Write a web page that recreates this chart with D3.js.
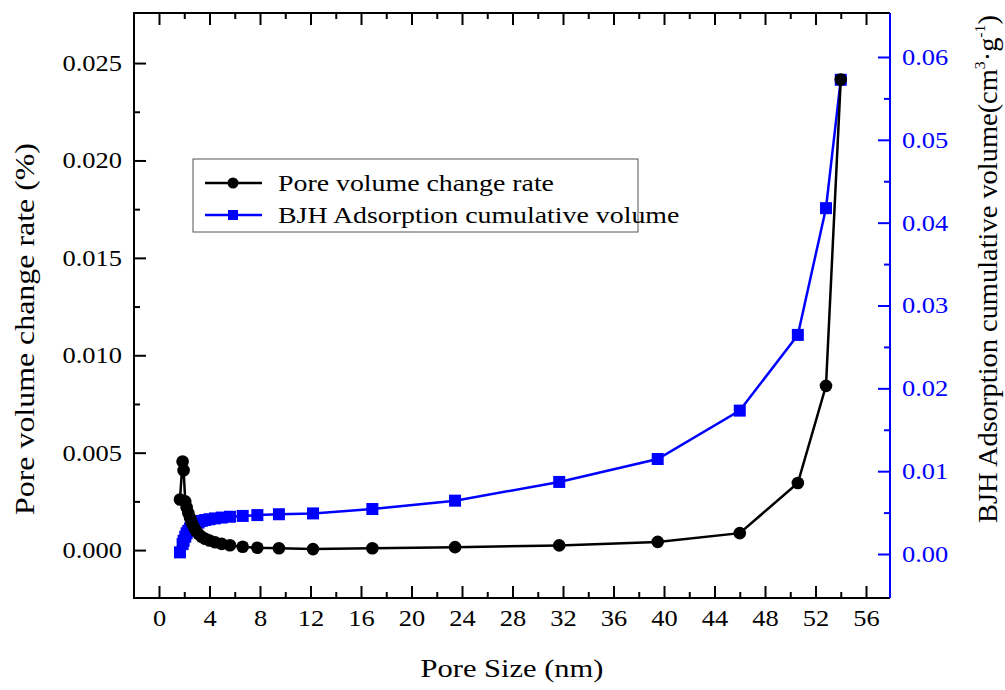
<!DOCTYPE html>
<html>
<head>
<meta charset="utf-8">
<script src="https://cdn.jsdelivr.net/npm/d3@7"></script>
<style>
    body { margin: 0; background: #fff; }
    svg text { font-family: "Liberation Serif", "Times New Roman", serif; }
</style>
</head>
<body>
<div id="chart"></div>
<script>
// pore size (nm), shared by both series
const poreSize = [1.66, 1.87, 1.95, 2.08, 2.19, 2.32, 2.46, 2.6, 2.76, 2.94, 3.14, 3.38, 3.66, 4.0, 4.44,
    4.97, 5.62, 6.63, 7.79, 9.5, 12.2, 16.9, 23.45, 31.7, 39.5, 46.0, 50.6, 52.83, 54.0];

// pore volume change rate (%), left axis
const changeRate = [0.0026, 0.00455, 0.0041, 0.0025, 0.0022, 0.0019, 0.00165, 0.0014, 0.00118, 0.00098, 0.00082,
    0.00068, 0.00058, 0.00049, 0.0004, 0.00032, 0.00025, 0.00017, 0.00012, 0.00009, 0.00005, 0.00009,
    0.00015, 0.00024, 0.00042, 0.00087, 0.00344, 0.00843, 0.02416];

// BJH adsorption cumulative volume (cm3/g), right axis
const cumVolume = [0.0002, 0.0012, 0.0016, 0.0021, 0.0025, 0.0028, 0.0031, 0.0033, 0.0035, 0.0037, 0.0038,
    0.004, 0.0041, 0.0042, 0.0043, 0.0044, 0.0045, 0.0046, 0.0047, 0.0048, 0.0049, 0.00543,
    0.00644, 0.0087, 0.01147, 0.01731, 0.02645, 0.04175, 0.05725];

const xTicks = d3.range(0, 57, 4);
const leftTicks = [0, 0.005, 0.01, 0.015, 0.02, 0.025];
const rightTicks = [0, 0.01, 0.02, 0.03, 0.04, 0.05, 0.06];

const seriesNames = ["Pore volume change rate", "BJH Adsorption cumulative volume"];

const blue = "#0000ff";
const width = 1005, height = 690;
const plot = { left: 134, right: 890, top: 13, bottom: 598 };

const svg = d3.select("#chart").append("svg")
    .attr("width", width)
    .attr("height", height);

const x = d3.scaleLinear().domain([-1.98, 57.9]).range([plot.left, plot.right]);
const yL = d3.scaleLinear().domain([-0.00246, 0.02757]).range([plot.bottom, plot.top]);
const yR = d3.scaleLinear().domain([-0.00531, 0.06531]).range([plot.bottom, plot.top]);

// minor ticks sit halfway between the majors
const xMinor = d3.range(2, 57, 4);
const leftMinor = d3.range(0.0025, 0.027, 0.005);
const rightMinor = d3.range(0.005, 0.065, 0.01);

// the original text is a bit wider than the font, stretch it
function stretch(sel, factor) {
    sel.each(function () {
        const len = this.getComputedTextLength();
        d3.select(this).attr("textLength", len * factor).attr("lengthAdjust", "spacingAndGlyphs");
    });
}

function tickAxis(axisFn, scale, major, minor, fmt, color) {
    // major ticks with labels, pointing into the plot
    const gMaj = svg.append("g").call(axisFn(scale).tickValues(major).tickSize(-12).tickPadding(fmt ? 12 : 0)
        .tickFormat(fmt || (() => "")));
    const gMin = svg.append("g").call(axisFn(scale).tickValues(minor).tickSize(-6).tickFormat(""));
    [gMaj, gMin].forEach(g => {
        g.select(".domain").remove();
        g.selectAll("line").attr("stroke", color).attr("stroke-width", 2);
        g.selectAll("text").attr("fill", color).style("font-size", "23px")
            .style("font-family", '"Liberation Serif", serif');
    });
    if (fmt) stretch(gMaj.selectAll("text"), 1.15);
    return [gMaj, gMin];
}

// bottom
tickAxis(d3.axisBottom, x, xTicks, xMinor, d3.format("d"), "#000")
    .forEach(g => g.attr("transform", "translate(0," + plot.bottom + ")"));
// top (no labels)
tickAxis(d3.axisTop, x, xTicks, xMinor, null, "#000")
    .forEach(g => g.attr("transform", "translate(0," + plot.top + ")"));
// left
tickAxis(d3.axisLeft, yL, leftTicks, leftMinor, d3.format(".3f"), "#000")
    .forEach(g => g.attr("transform", "translate(" + plot.left + ",0)"));
// right, blue
tickAxis(d3.axisRight, yR, rightTicks, rightMinor, d3.format(".2f"), blue)
    .forEach(g => g.attr("transform", "translate(" + plot.right + ",0)"));

// frame
svg.append("path")
    .attr("d", "M" + plot.right + "," + plot.top + "H" + plot.left + "V" + plot.bottom + "H" + plot.right)
    .attr("fill", "none").attr("stroke", "#000").attr("stroke-width", 2);
svg.append("line")
    .attr("x1", plot.right).attr("x2", plot.right)
    .attr("y1", plot.top).attr("y2", plot.bottom)
    .attr("stroke", blue).attr("stroke-width", 2);

const rows = poreSize.map((p, i) => ({ p: p, r: changeRate[i], v: cumVolume[i] }));

// blue series first, black drawn above it
const lineR = d3.line().x(d => x(d.p)).y(d => yR(d.v));
svg.append("path").datum(rows)
    .attr("d", lineR).attr("fill", "none").attr("stroke", blue).attr("stroke-width", 2.5);
svg.append("g").selectAll("rect")
    .data(rows).enter().append("rect")
    .attr("x", d => x(d.p) - 6).attr("y", d => yR(d.v) - 6)
    .attr("width", 12).attr("height", 12)
    .attr("fill", blue);

const lineL = d3.line().x(d => x(d.p)).y(d => yL(d.r));
svg.append("path").datum(rows)
    .attr("d", lineL).attr("fill", "none").attr("stroke", "#000").attr("stroke-width", 2.5);
svg.append("g").selectAll("circle")
    .data(rows).enter().append("circle")
    .attr("cx", d => x(d.p)).attr("cy", d => yL(d.r))
    .attr("r", 6.3)
    .attr("fill", "#000");

// axis titles
svg.append("text")
    .attr("x", 512).attr("y", 677)
    .attr("text-anchor", "middle").style("font-size", "26px")
    .attr("textLength", 183).attr("lengthAdjust", "spacingAndGlyphs")
    .text("Pore Size (nm)");

svg.append("text")
    .attr("transform", "translate(34,329) rotate(-90)")
    .attr("text-anchor", "middle").style("font-size", "28px")
    .attr("textLength", 372).attr("lengthAdjust", "spacingAndGlyphs")
    .text("Pore volume change rate (%)");

const rt = svg.append("text")
    .attr("transform", "translate(997,269) rotate(-90)")
    .attr("text-anchor", "middle").style("font-size", "27px")
    .attr("textLength", 508).attr("lengthAdjust", "spacingAndGlyphs");
rt.append("tspan").text("BJH Adsorption cumulative volume(cm");
rt.append("tspan").attr("dy", -12).style("font-size", "15px").text("3");
rt.append("tspan").attr("dy", 12).text("·g");
rt.append("tspan").attr("dy", -12).style("font-size", "15px").text("-1");
rt.append("tspan").attr("dy", 12).text(")");

// legend
const legend = svg.append("g");
legend.append("rect")
    .attr("x", 193).attr("y", 159).attr("width", 445).attr("height", 73)
    .attr("fill", "#fff").attr("stroke", "#555").attr("stroke-width", 1);

const legendRows = legend.selectAll(".lrow")
    .data(seriesNames).enter().append("g")
    .attr("class", "lrow")
    .attr("transform", (d, i) => "translate(0," + (183 + i * 32) + ")");
legendRows.append("line")
    .attr("x1", 205).attr("x2", 262)
    .attr("stroke", (d, i) => i ? blue : "#000").attr("stroke-width", 2.5);
legendRows.filter((d, i) => i == 0).append("circle")
    .attr("cx", 233).attr("r", 5.5).attr("fill", "#000");
legendRows.filter((d, i) => i == 1).append("rect")
    .attr("x", 228).attr("y", -5).attr("width", 10).attr("height", 10).attr("fill", blue);
legendRows.append("text")
    .attr("x", 278).attr("y", 8)
    .style("font-size", "24px")
    .text(d => d);
stretch(legendRows.selectAll("text"), 1.16);
</script>
</body>
</html>
